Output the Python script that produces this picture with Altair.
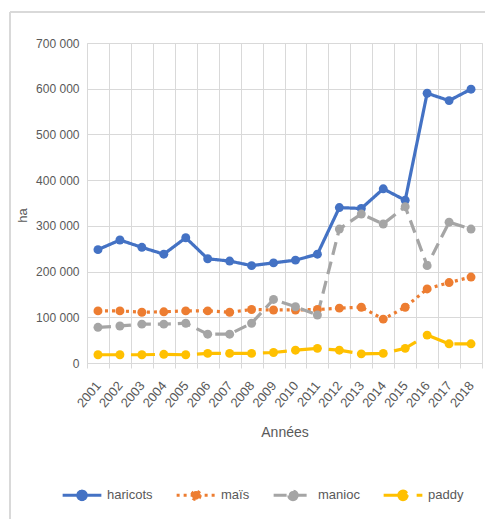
import altair as alt
import pandas as pd

years = [str(y) for y in range(2001, 2019)]
series = ["haricots", "maïs", "manioc", "paddy"]
colors = ["#4472C4", "#ED7D31", "#A5A5A5", "#FFC000"]
dashes = [[1, 0], [3, 4], [13, 7], [24, 9]]

haricots = [248000, 269000, 253000, 238000, 274000, 228000, 223000, 213000, 219000,
            225000, 238000, 340000, 338000, 381000, 356000, 590000, 574000, 599000]
mais = [114000, 114000, 111000, 112000, 114000, 114000, 111000, 117000, 116000,
        116000, 117000, 120000, 122000, 96000, 122000, 162000, 176000, 188000]
manioc = [78000, 81000, 85000, 85000, 87000, 63000, 63000, 87000, 139000,
          123000, 105000, 293000, 326000, 304000, 342000, 213000, 308000, 293000]
paddy = [18000, 18000, 18000, 19000, 18000, 21000, 21000, 21000, 23000,
         28000, 32000, 28000, 20000, 21000, 32000, 61000, 42000, 42000]

rows = []
for name, vals in zip(series, [haricots, mais, manioc, paddy]):
    for y, v in zip(years, vals):
        rows.append({"Année": y, "culture": name, "ha": v})
df = pd.DataFrame(rows)

grey_txt = "#595959"
grid_col = "#D9D9D9"
font = "Liberation Sans"

x_enc = alt.X(
    "Année:O",
    scale=alt.Scale(type="band", paddingInner=0, paddingOuter=0, domain=years),
    bandPosition=0.5,
    axis=alt.Axis(
        title="Années", tickBand="extent", grid=True, gridColor=grid_col,
        domainColor=grid_col, tickColor=grid_col, tickSize=5,
        labelAngle=-50, labelFontSize=13, labelColor=grey_txt, labelFont=font,
        labelPadding=15,
        titleFontSize=14, titleColor=grey_txt, titleFont=font, titleFontWeight="normal",
        titlePadding=16,
    ),
)
y_enc = alt.Y(
    "ha:Q",
    scale=alt.Scale(domain=[0, 700000]),
    axis=alt.Axis(
        title="ha", values=list(range(0, 700001, 100000)),
        labelExpr="replace(format(datum.value, ','), ',', ' ')",
        grid=True, gridColor=grid_col, domain=False, ticks=False,
        labelFontSize=12, labelColor=grey_txt, labelFont=font, labelPadding=8,
        titleFontSize=13, titleColor=grey_txt, titleFont=font, titleFontWeight="normal",
        titleX=-65, titleY=172, titleAlign="center", titleBaseline="middle",
    ),
)

legend = alt.Legend(
    title=None, orient="none", legendX=-26, legendY=431, direction="horizontal",
    symbolType="M-1,0H1M0.22,0A0.22,0.22,0,1,1,-0.22,0A0.22,0.22,0,1,1,0.22,0Z",
    symbolSize=1500, symbolStrokeWidth=3, labelFontSize=13, labelColor=grey_txt,
    labelFont=font, columnPadding=17, labelOffset=4,
)

color = alt.Color("culture:N", scale=alt.Scale(domain=series, range=colors), legend=legend)
dash = alt.StrokeDash("culture:N", scale=alt.Scale(domain=series, range=dashes), legend=legend)

lines = alt.Chart(df).mark_line(strokeWidth=3.2, strokeCap="butt").encode(
    x=x_enc, y=y_enc, color=color, strokeDash=dash
)
points = alt.Chart(df).mark_point(filled=True, size=80, opacity=1).encode(
    x=x_enc, y=y_enc, color=alt.Color("culture:N", scale=alt.Scale(domain=series, range=colors), legend=legend)
)

top_line = alt.Chart(df).mark_rule(stroke=grid_col, strokeWidth=2, clip=False).encode(
    x=alt.value(-77), x2=alt.value(600), y=alt.value(-31)
)
left_line = alt.Chart(df).mark_rule(stroke=grid_col, strokeWidth=2, clip=False).encode(
    x=alt.value(-77), y=alt.value(-31), y2=alt.value(600)
)

chart = alt.layer(top_line, left_line, lines, points).properties(
    width=395, height=320,
    autosize=alt.AutoSizeParams(type="none"),
    padding={"left": 79, "top": 35, "right": 3, "bottom": 156},
).configure_view(stroke=grid_col).configure(background="white")

chart.save("out.html", embed_options={"renderer": "svg", "actions": False})
